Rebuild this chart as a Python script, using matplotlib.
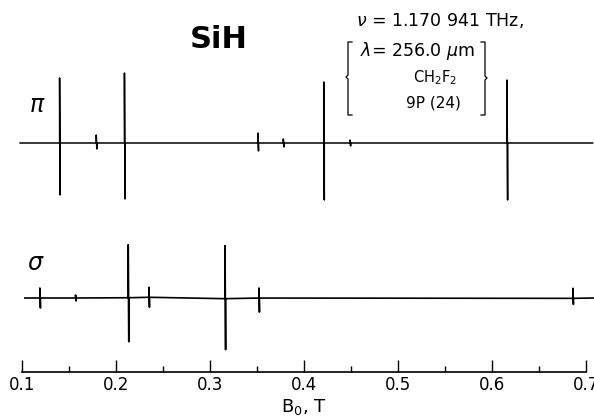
import matplotlib
matplotlib.use("Agg")
import matplotlib.pyplot as plt
import numpy as np

# field positions of lines (T), upward / downward excursions (px)
pi_B    = [0.140, 0.179, 0.209, 0.351, 0.378, 0.449, 0.421, 0.616]
pi_up   = [65, 8, 70, 10, 4, 3, 61, 63]
pi_down = [52, 6, 56, 8, 4, 3, 57, 57]

sig_B    = [0.119, 0.157, 0.213, 0.235, 0.316, 0.352, 0.686]
sig_up   = [10, 3, 53, 10, 53, 10, 10]
sig_down = [10, 3, 44, 10, 51, 14, 6]

# slow baseline drift of the sigma trace (px, up = +)
sig_drift_B = [0.105, 0.2, 0.25, 0.3, 0.35, 0.4, 0.47, 0.5, 0.55, 0.6, 0.62, 0.66, 0.7]
sig_drift   = [0, 0, 1, -1, 0, -1, 2, 0, -1, 0, 2, -1, 0]

pi_base, sig_base = 143, 298
ticks_major = [0.1, 0.2, 0.3, 0.4, 0.5, 0.6, 0.7]
ticks_minor = [0.15, 0.25, 0.35, 0.45, 0.55, 0.65]


def trace(B0, B1, lines, up, down, base, drift_B=None, drift=None):
    xs, ys = [B0], [base]
    order = np.argsort(lines)
    for i in order:
        b = lines[i]
        xs += [b, b, b + 0.0006, b + 0.0006]
        ys += [base, base - up[i], base + down[i], base]
    xs.append(B1)
    ys.append(base)
    xs = np.array(xs)
    ys = np.array(ys, dtype=float)
    if drift_B is not None:
        ys = ys - np.interp(xs, drift_B, drift)
    return xs, ys


fig = plt.figure(figsize=(5.94, 4.19), dpi=100)
ax = fig.add_axes([22 / 594, 47 / 419, 564 / 594, 372 / 419])
ax.set_xlim(0.1, 0.7)
ax.set_ylim(372, 0)

x, y = trace(0.098, 0.707, pi_B, pi_up, pi_down, pi_base)
ax.plot(x, y, color='k', lw=1.1, clip_on=False)
x, y = trace(0.103, 0.708, sig_B, sig_up, sig_down, sig_base, sig_drift_B, sig_drift)
ax.plot(x, y, color='k', lw=1.2, clip_on=False)

for s in ['top', 'left', 'right']:
    ax.spines[s].set_visible(False)
ax.spines['bottom'].set_linewidth(1.2)
ax.set_yticks([])
ax.set_xticks(ticks_major)
ax.set_xticks(ticks_minor, minor=True)
ax.set_xticklabels(['%.1f' % t for t in ticks_major])
ax.tick_params(axis='x', which='major', direction='in', length=8.6, width=1.0,
               labelsize=12, pad=3)
ax.tick_params(axis='x', which='minor', direction='in', length=4.3, width=1.0)
ax.set_xlabel('B$_0$, T', fontsize=13, labelpad=2)

# annotations in pixel coordinates
ov = fig.add_axes([0, 0, 1, 1], facecolor='none')
ov.set_xlim(0, 594)
ov.set_ylim(419, 0)
ov.axis('off')
ov.text(219, 39, 'SiH', fontsize=22, fontweight='bold', ha='center', va='center')
ov.text(37, 105, r'$\pi$', fontsize=17, ha='center', va='center')
ov.text(36, 263, r'$\sigma$', fontsize=17, ha='center', va='center')
ov.text(440, 20, r'$\nu$ = 1.170 941 THz,', fontsize=12.5, ha='center', va='center')
ov.text(417, 51, r'$\lambda$= 256.0 $\mu$m', fontsize=12.5, ha='center', va='center')
ov.text(435, 78, r'CH$_2$F$_2$', fontsize=10.5, ha='center', va='center')
ov.text(433, 103, '9P (24)', fontsize=11, ha='center', va='center')
ov.plot([352, 348, 348, 346, 348, 348, 352], [42, 42, 75, 77, 79, 115, 115], color='k', lw=0.9)
ov.plot([481, 485, 485, 487, 485, 485, 481], [42, 42, 76, 78, 80, 115, 115], color='k', lw=0.9)

fig.savefig('out.png', dpi=100)
